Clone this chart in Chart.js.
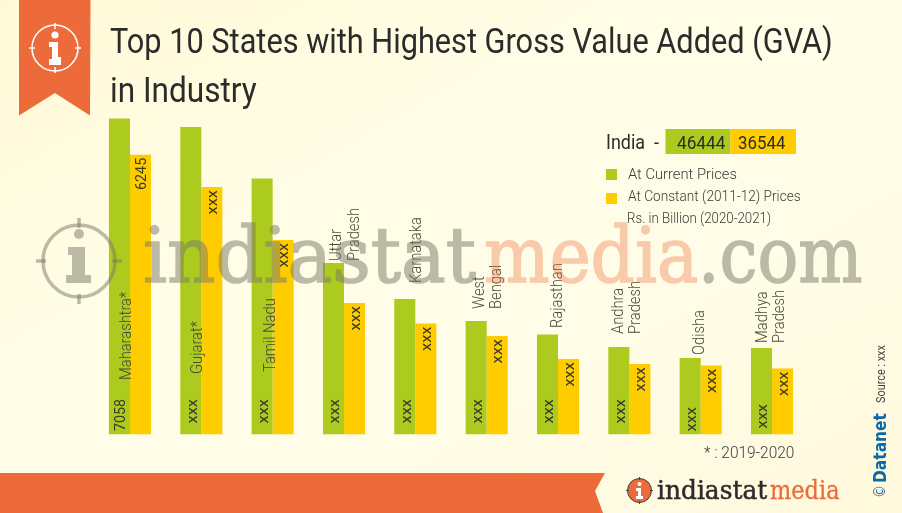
<!DOCTYPE html>
<html><head><meta charset="utf-8">
<script src="https://cdn.jsdelivr.net/npm/chart.js@4"></script>
<style>
html,body{margin:0;padding:0;width:902px;height:513px;overflow:hidden}
#wrap{position:relative;width:902px;height:513px;background:linear-gradient(150deg,#fff9d6 0%,#fffde6 35%,#fffde8 65%,#fff9dc 100%);overflow:hidden}
#wrap canvas#c{position:absolute;left:0;top:0}
svg{position:absolute;left:0;top:0}
.t{position:absolute;white-space:pre;transform-origin:0 0;line-height:1;font-family:Roboto,sans-serif}
</style></head><body>
<div id="wrap">
<svg id="under" width="902" height="513">
 <polygon points="19,0 90.5,0 90,115.5 55,93 19,115.5" fill="#ED6A3A"/>
 <g fill="none" stroke="#fff" stroke-width="1.6"><circle cx="55" cy="48" r="23"/>
 <path d="M55 23v6M55 67v6M29 48h6M75 48h6"/></g>
 <g fill="#fff"><circle cx="55" cy="35" r="3.6"/><path d="M49 42h9v15h3v8H49v-6h3V47h-3z"/></g>
 <polygon points="0,473 605,473 595,491 603,513 0,513" fill="#ED6A3A"/>
 <rect x="665.5" y="129" width="65" height="25" fill="#ADCB1F"/>
 <rect x="730.5" y="129" width="65.5" height="25" fill="#FFCC00"/>
 <rect x="606" y="169" width="11" height="11" fill="#ADCB1F"/>
 <rect x="606" y="193" width="11" height="11" fill="#FFCC00"/>
 <circle cx="639.5" cy="490.5" r="12" fill="#ED6A3A" stroke="#444" stroke-width="1"/>
 <path d="M639.5 477v3M639.5 501v3M626 490.5h3M650 490.5h3" stroke="#444" stroke-width="1"/>
 <g fill="#fff"><circle cx="639.5" cy="484" r="2"/><path d="M636 488h5v8h2v3h-7v-3h2v-5h-2z"/></g>
</svg>
<canvas id="c" width="902" height="513"></canvas>
<svg id="over" width="902" height="513">
 <g fill="none" stroke="#787868" stroke-opacity=".5" stroke-width="3.5"><circle cx="79" cy="261" r="36"/>
 <path d="M79 218v10M79 294v10M36 261h10M112 261h10"/></g>
 <g fill="#787868" fill-opacity=".5"><circle cx="79" cy="234" r="5"/><path d="M68 247h17v28h6v8H66v-8h6v-20h-4z"/></g>
</svg>
</div>
<script>
const categories = ['Maharashtra*','Gujarat*','Tamil Nadu','Uttar Pradesh','Karnataka','West Bengal','Rajasthan','Andhra Pradesh','Odisha','Madhya Pradesh'];
const currentPrices = [7058,6868,5718,3831,3027,2535,2234,1954,1709,1932];
const constantPrices = [6245,5528,4344,2937,2479,2200,1686,1575,1541,1474];
const currentLabels = ['7058','xxx','xxx','xxx','xxx','xxx','xxx','xxx','xxx','xxx'];
const constantLabels = ['6245','xxx','xxx','xxx','xxx','xxx','xxx','xxx','xxx','xxx'];
const seriesNames = ['At Current Prices','At Constant (2011-12) Prices'];

// label placement only (canvas px)
const nameBottom = [380,374,372,261,283,309,328,334,355,343];
const nameCentre = [126.5,197.5,271,345.5,416.5,488,557.5,627,700,771];
const greenLabelEnd = [399,399,399,399,399,399,399,399,407,404];

const labelPlugin = {
  id:'barLabels',
  afterDatasetsDraw(chart){
    const ctx = chart.ctx, y = chart.scales.y;
    const m0 = chart.getDatasetMeta(0).data, m1 = chart.getDatasetMeta(1).data;
    const rot = (txt,x,yy,align,font,color,sx=0.92)=>{
      ctx.save(); ctx.translate(x,yy); ctx.rotate(-Math.PI/2); ctx.scale(sx,1);
      ctx.font = font; ctx.fillStyle = color; ctx.textAlign = align; ctx.textBaseline='middle';
      ctx.fillText(txt,0,0); ctx.restore();
    };
    categories.forEach((name,i)=>{
      const gx = m0[i].x, yx = m1[i].x;
      const numFont = '400 15px Roboto';
      rot(currentLabels[i], gx+2, greenLabelEnd[i], 'right', numFont, '#3a3a28', i==0?0.95:1.1);
      rot(constantLabels[i], yx+1.5, y.getPixelForValue(constantPrices[i])+3, 'right', numFont, '#3a3a28', i==0?0.95:1.1);
      const parts = name.split(' ');
      const color = '#4a4a3a', f='300 16px Roboto';
      if(parts.length===2 && i!==2){
        rot(parts[0], nameCentre[i]-8.5, nameBottom[i], 'left', f, color);
        rot(parts[1], nameCentre[i]+9, nameBottom[i], 'left', f, color);
      } else {
        rot(name, nameCentre[i], nameBottom[i], 'left', f, color);
      }
    });
  }
};

new Chart(document.getElementById('c'),{
  type:'bar',
  data:{labels:categories,datasets:[
    {label:seriesNames[0],data:currentPrices,backgroundColor:'#ADCB1F',borderWidth:0},
    {label:seriesNames[1],data:constantPrices,backgroundColor:'#FFCC00',borderWidth:0}
  ]},
  options:{
    responsive:false,animation:false,devicePixelRatio:1,
    layout:{padding:{left:94.3,right:94.3,top:31.5,bottom:78.5}},
    plugins:{legend:{display:false},title:{display:false},tooltip:{enabled:false}},
    scales:{
      x:{display:false,offset:true,stacked:false,grid:{display:false}},
      y:{display:false,min:0,max:9000,grid:{display:false}}
    },
    datasets:{bar:{categoryPercentage:0.59,barPercentage:1}}
  },
  plugins:[labelPlugin]
});

const wrap = document.getElementById('wrap');
function put(s,x,base,w,size,color,weight=400,family='Roboto',rot=false,alpha=1,stroke=0){
  const e=document.createElement('div');e.className='t';e.textContent=s;
  e.style.cssText+=`font-size:${size}px;color:${color};font-weight:${weight};font-family:'${family}',sans-serif;opacity:${alpha};line-height:${size}px;`+(stroke?`-webkit-text-stroke:${stroke}px ${color};`:'');
  wrap.appendChild(e);
  const r=e.offsetWidth, sx=w/r, asc=size*0.845;
  if(rot){ e.style.left=(x-asc)+'px'; e.style.top=base+'px';
    e.style.transform=`rotate(-90deg) scaleX(${sx})`; }
  else { e.style.left=x+'px'; e.style.top=(base-asc)+'px'; e.style.transform=`scaleX(${sx})`; }
}
document.fonts.ready.then(()=>{
put('Top 10 States with Highest Gross Value Added (GVA)',110,54,723,35,'#2b2b2b',400);
put('in Industry',110,103,147,35,'#2b2b2b',400);
put('India  -',606,149,53,20,'#2b2b2b',400);
put('46444',677,149,48,19,'#2b2b2b',400);
put('36544',738,149,47,19,'#2b2b2b',400);
put(seriesNames[0],628,180,109,15,'#3a3a3a',300);
put(seriesNames[1],628,202,173,15,'#3a3a3a',300);
put('Rs. in Billion (2020-2021)',627,224,144,15,'#3a3a3a',300);
put('* : 2019-2020',704,458,90,17,'#3a3a3a',300);
put('indiastat',143,282,333,76,'#787868',400,'DejaVu Serif',false,.5,1.6);
put('media',484,282,214,76,'#ED6A3A',400,'DejaVu Serif',false,.35,1.6);
put('.com',698,282,165,76,'#787868',400,'DejaVu Serif',false,.5,1.6);
put('indiastat',657,499,110,26,'#2b2b2b',400,'DejaVu Serif',false,1,.5);
put('media',770,499,70,26,'#ED6A3A',400,'DejaVu Serif',false,1,.3);
put('©',886,498,13,16,'#1f5f8f',400,'DejaVu Sans',true);
put('Datanet',886,483,70,17,'#0b69a8',700,'DejaVu Sans',true);
put('Source : xxx',885,403,58,12,'#444',400,'Roboto',true);
});
</script>
</body></html>
